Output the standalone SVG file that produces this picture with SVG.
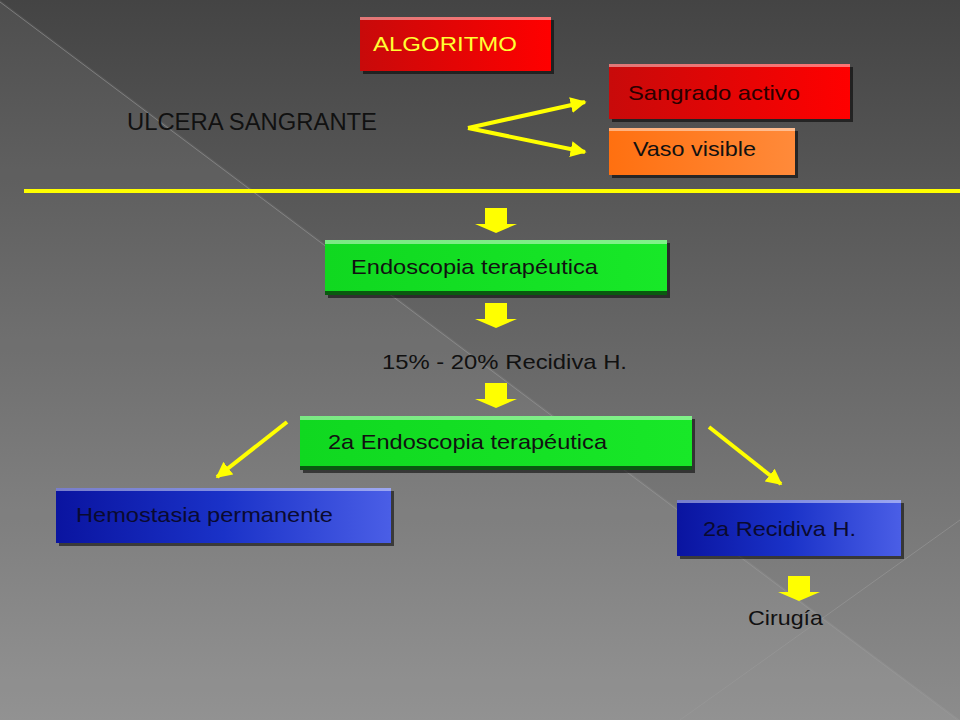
<svg xmlns="http://www.w3.org/2000/svg" width="960" height="720" viewBox="0 0 960 720">
<defs>
<linearGradient id="bg" x1="0" y1="0" x2="0" y2="1">
<stop offset="0" stop-color="#444444"/>
<stop offset="1" stop-color="#8c8c8c"/>
</linearGradient>
<linearGradient id="red" x1="0" y1="0" x2="1" y2="0">
<stop offset="0" stop-color="#c80a0a"/>
<stop offset="1" stop-color="#ff0000"/>
</linearGradient>
<linearGradient id="orange" x1="0" y1="0" x2="1" y2="0">
<stop offset="0" stop-color="#ff7010"/>
<stop offset="1" stop-color="#ff8a3a"/>
</linearGradient>
<linearGradient id="green" x1="0" y1="0" x2="1" y2="0">
<stop offset="0" stop-color="#10d820"/>
<stop offset="1" stop-color="#18e828"/>
</linearGradient>
<linearGradient id="blue" x1="0" y1="0" x2="1" y2="0">
<stop offset="0" stop-color="#0a14a0"/>
<stop offset="0.5" stop-color="#1a32c8"/>
<stop offset="1" stop-color="#4a5ee6"/>
</linearGradient>
<marker id="ah" viewBox="0 0 10 10" refX="9" refY="5" markerWidth="4" markerHeight="4" orient="auto" markerUnits="strokeWidth">
<path d="M0,0 L10,5 L0,10 z" fill="#ffff00"/>
</marker>
<path id="blk" d="M-11,0 H11 V16 H21 L0,25 L-21,16 H-11 z"/>
</defs>
<style>
.t{font-family:"Liberation Sans",Arial,sans-serif;font-size:21px;fill:#111}
.bevel{fill:#ffffff;opacity:0.45}
.shadow{fill:#000;opacity:0.55}
.conn{stroke:#ffff00;stroke-width:4;fill:none}
.blockarrow{fill:#ffff00}
</style>
<rect width="960" height="720" fill="url(#bg)"/>
<polygon points="0,0 960,720 0,720" fill="#ffffff" opacity="0.06"/>
<line x1="0" y1="2" x2="960" y2="722" stroke="#9a9a9a" stroke-width="1" opacity="0.6"/>
<line x1="680" y1="720" x2="960" y2="520" stroke="#9a9a9a" stroke-width="1" opacity="0.6"/>

<g id="connectors">
<line class="conn" x1="24" y1="191" x2="960" y2="191"/>
<line class="conn" x1="468" y1="128" x2="585" y2="102" marker-end="url(#ah)"/>
<line class="conn" x1="468" y1="128" x2="585" y2="152" marker-end="url(#ah)"/>
<line class="conn" x1="287" y1="422" x2="217" y2="477" marker-end="url(#ah)"/>
<line class="conn" x1="709" y1="427" x2="781" y2="484" marker-end="url(#ah)"/>
<use href="#blk" class="blockarrow" x="496" y="208"/>
<use href="#blk" class="blockarrow" x="496" y="303"/>
<use href="#blk" class="blockarrow" x="496" y="383"/>
<use href="#blk" class="blockarrow" x="799" y="576"/>
</g>

<g id="algoritmo">
<rect x="363" y="20" width="191" height="54" class="shadow"/>
<rect x="360" y="17" width="191" height="54" fill="url(#red)"/>
<rect x="360" y="17" width="191" height="3" class="bevel"/>
<text x="373" y="51" class="t" style="fill:#ffff33" textLength="144" lengthAdjust="spacingAndGlyphs">ALGORITMO</text>
</g>

<g id="ulcera">
<text x="127" y="130" class="t" style="font-size:23px" textLength="250" lengthAdjust="spacingAndGlyphs">ULCERA SANGRANTE</text>
</g>

<g id="sangrado">
<rect x="612" y="67" width="241" height="55" class="shadow"/>
<rect x="609" y="64" width="241" height="55" fill="url(#red)"/>
<rect x="609" y="64" width="241" height="3" class="bevel"/>
<text x="628" y="100" class="t" style="fill:#2a0000" textLength="172" lengthAdjust="spacingAndGlyphs">Sangrado activo</text>
</g>

<g id="vaso">
<rect x="612" y="131" width="186" height="47" class="shadow"/>
<rect x="609" y="128" width="186" height="47" fill="url(#orange)"/>
<rect x="609" y="128" width="186" height="3" class="bevel"/>
<text x="633" y="156" class="t" textLength="123" lengthAdjust="spacingAndGlyphs">Vaso visible</text>
</g>

<g id="endoscopia">
<rect x="328" y="243" width="342" height="55" class="shadow"/>
<rect x="325" y="240" width="342" height="55" fill="url(#green)"/>
<rect x="325" y="240" width="342" height="4" class="bevel"/>
<rect x="325" y="291" width="342" height="4" fill="#0a5a10"/>
<text x="351" y="274" class="t" textLength="247" lengthAdjust="spacingAndGlyphs">Endoscopia terapéutica</text>
</g>

<g id="recidiva1">
<text x="382" y="369" class="t" textLength="245" lengthAdjust="spacingAndGlyphs">15% - 20% Recidiva H.</text>
</g>

<g id="endoscopia2">
<rect x="303" y="419" width="392" height="54" class="shadow"/>
<rect x="300" y="416" width="392" height="54" fill="url(#green)"/>
<rect x="300" y="416" width="392" height="4" class="bevel"/>
<rect x="300" y="466" width="392" height="4" fill="#0a5a10"/>
<text x="328" y="449" class="t" textLength="279" lengthAdjust="spacingAndGlyphs">2a Endoscopia terapéutica</text>
</g>

<g id="hemostasia">
<rect x="59" y="491" width="335" height="55" class="shadow"/>
<rect x="56" y="488" width="335" height="55" fill="url(#blue)"/>
<rect x="56" y="488" width="335" height="3" class="bevel"/>
<text x="76" y="522" class="t" style="fill:#0a0a30" textLength="257" lengthAdjust="spacingAndGlyphs">Hemostasia permanente</text>
</g>

<g id="recidiva2">
<rect x="680" y="503" width="224" height="56" class="shadow"/>
<rect x="677" y="500" width="224" height="56" fill="url(#blue)"/>
<rect x="677" y="500" width="224" height="3" class="bevel"/>
<text x="703" y="536" class="t" style="fill:#0a0a30" textLength="153" lengthAdjust="spacingAndGlyphs">2a Recidiva H.</text>
</g>

<g id="cirugia">
<text x="748" y="625" class="t" textLength="75" lengthAdjust="spacingAndGlyphs">Cirugía</text>
</g>
</svg>
